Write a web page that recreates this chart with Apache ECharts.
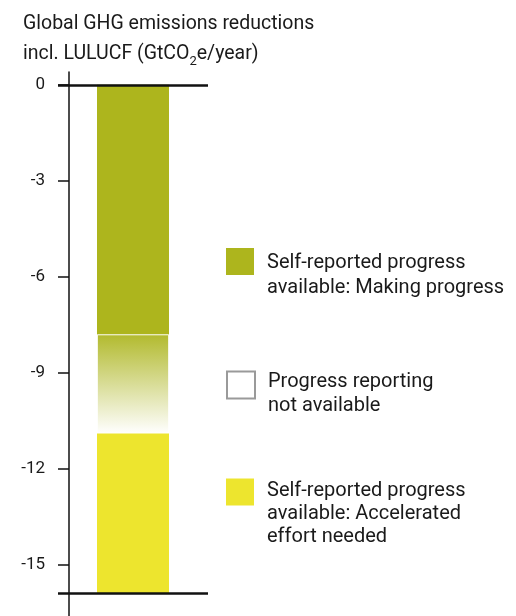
<!DOCTYPE html>
<html>
<head>
<meta charset="utf-8">
<script src="https://cdn.jsdelivr.net/npm/echarts@6/dist/echarts.min.js"></script>
<style>
  html, body { margin: 0; padding: 0; background: #fff; }
  #main { width: 516px; height: 616px; }
</style>
</head>
<body>
<div id="main"></div>
<script>
// data
var categories = ['Global'];
var making = [-7.8];        // making progress
var notAvailable = [-3.1];  // progress reporting not available
var accelerated = [-5.0];   // accelerated effort needed
var tickValues = [0, -3, -6, -9, -12, -15];

var names = [
  'Self-reported progress\navailable: Making progress',
  'Progress reporting\nnot available',
  'Self-reported progress\navailable: Accelerated\neffort needed'
];

var total = making[0] + notAvailable[0] + accelerated[0];
var font = 'Roboto';
var green = '#adb51d';
var yellow = '#ede52e';

var chart = echarts.init(document.getElementById('main'));

// one legend block per entry; a blank spacer line pushes the text down
// so the first line sits at the top of the square like in the picture
function legendFor(i, top, spacer, lh, style) {
  var item = { name: names[i] };
  if (style) item.itemStyle = style;
  return {
    data: [item],
    left: 226,
    top: top,
    padding: 0,
    orient: 'vertical',
    icon: 'rect',
    itemWidth: 28,
    itemHeight: 27,
    selectedMode: false,
    formatter: function (name) {
      return '{sp| }\n' + name.split('\n').map(function (s) {
        return '{t|' + s + '}';
      }).join('\n');
    },
    textStyle: {
      fontFamily: font,
      fontSize: 20,
      color: '#1a1a1a',
      rich: {
        sp: { fontSize: 8, lineHeight: spacer },
        t: { fontFamily: font, fontSize: 20, lineHeight: lh, color: '#1a1a1a', padding: [0, 0, 0, 8] }
      }
    }
  };
}

var option = {
  animation: false,
  title: {
    text: 'Global GHG emissions reductions\nincl. LULUCF (GtCO{sub|2}e/year)',
    left: 18,
    top: 4,
    textStyle: {
      fontFamily: font,
      fontSize: 19.5,
      fontWeight: 'normal',
      lineHeight: 30,
      color: '#1a1a1a',
      rich: {
        sub: { fontFamily: font, fontSize: 13, padding: [15, 0, 0, 0], color: '#1a1a1a' }
      }
    }
  },
  legend: [
    legendFor(0, 232.5, 28, 25, { color: green }),
    legendFor(1, 357, 17, 24, { color: '#fff', borderColor: '#9a9a9a', borderWidth: 2 }),
    legendFor(2, 453.5, 43, 23, { color: yellow })
  ],
  grid: { left: 58, right: 308, top: 72, bottom: 0 },
  xAxis: {
    type: 'category',
    data: categories,
    show: false
  },
  yAxis: {
    type: 'value',
    min: -16.6,
    max: 0.4,
    offset: -11,
    axisLine: { show: true, lineStyle: { color: '#111', width: 1.5 } },
    axisTick: { show: true, length: 11, lineStyle: { color: '#111', width: 1.5 }, customValues: tickValues },
    axisLabel: {
      margin: 24,
      fontFamily: font,
      fontSize: 17,
      color: '#1a1a1a',
      customValues: tickValues
    },
    splitLine: { show: false }
  },
  series: [
    {
      name: names[0],
      type: 'bar',
      stack: 'total',
      barWidth: 72,
      data: making,
      itemStyle: { color: green },
      markLine: {
        silent: true,
        symbol: 'none',
        label: { show: false },
        lineStyle: { color: '#111', width: 2.5, type: 'solid' },
        data: [{ yAxis: 0 }, { yAxis: total }]
      }
    },
    {
      name: names[1],
      type: 'bar',
      stack: 'total',
      barWidth: 72,
      data: notAvailable,
      itemStyle: {
        color: new echarts.graphic.LinearGradient(0, 0, 0, 1, [
          { offset: 0, color: '#b2ba2e' },
          { offset: 1, color: '#ffffff' }
        ]),
        borderColor: 'rgba(255,255,255,0.7)',
        borderWidth: 1
      }
    },
    {
      name: names[2],
      type: 'bar',
      stack: 'total',
      barWidth: 72,
      data: accelerated,
      itemStyle: { color: yellow }
    }
  ]
};

chart.setOption(option);
</script>
</body>
</html>
